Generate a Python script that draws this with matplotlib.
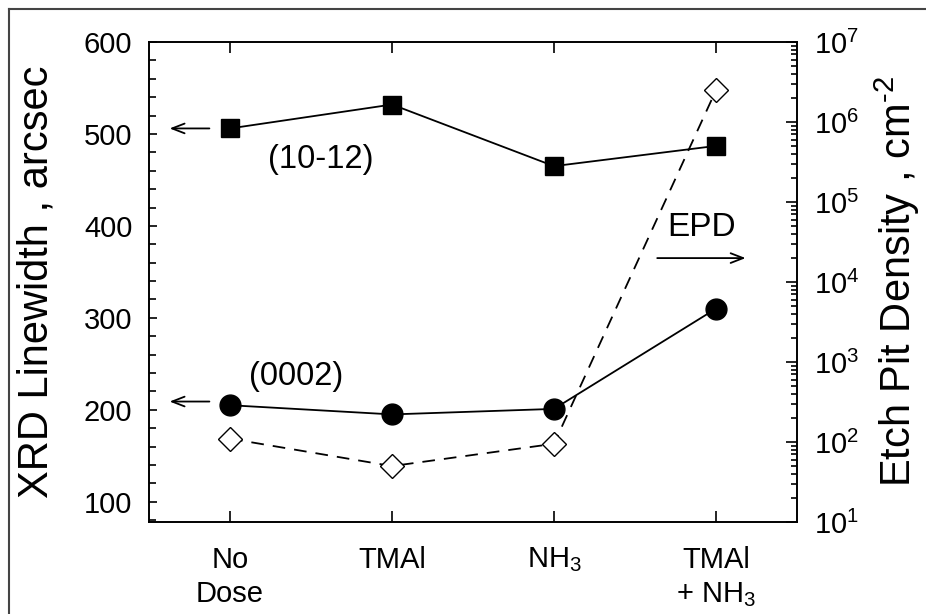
import matplotlib.pyplot as plt
import numpy as np
from matplotlib.lines import Line2D
from matplotlib.ticker import FixedLocator, LogLocator, NullFormatter

plt.rcParams['font.family'] = 'Liberation Sans'
plt.rcParams['mathtext.fontset'] = 'custom'
plt.rcParams['mathtext.rm'] = 'Liberation Sans'
plt.rcParams['mathtext.it'] = 'Liberation Sans:italic'

categories = ["No\nDose", "TMAl", "NH$_3$", "TMAl\n+ NH$_3$"]
xrd_1012 = [506, 532, 465, 487]
xrd_0002 = [205, 195, 201, 310]
epd = [110, 50, 95, 2.5e6]

x = np.arange(1, len(categories) + 1)

fig = plt.figure(figsize=(9.26, 6.14), dpi=100)
ax = fig.add_axes([149/926, 1 - 522/614, (797-149)/926, (522-42)/614])

ax.plot(x, xrd_1012, "-s", color="black", lw=1.3, ms=13, zorder=3)
ax.plot(x, xrd_0002, "-o", color="black", lw=1.3, ms=15, zorder=3)
ax.set_xlim(0.5, 4.5)
ax.set_ylim(78, 600)
ax.set_xticks(x)
ax.set_xticklabels(categories, fontsize=21, linespacing=1.3)
ax.yaxis.set_major_locator(FixedLocator([100, 200, 300, 400, 500, 600]))
ax.yaxis.set_minor_locator(FixedLocator(np.arange(80, 601, 20)))
ax.tick_params(axis='y', which='major', direction='in', length=6, width=1.2, labelsize=21, pad=12, right=False)
ax.tick_params(axis='y', which='minor', direction='in', length=5, width=1.2, left=True, right=False)
ax.tick_params(axis='x', which='major', direction='in', length=8, width=1.2, top=True, pad=17)
ax.set_ylabel("XRD Linewidth , arcsec", fontsize=30, labelpad=20)

ax2 = ax.twinx()
ax2.set_yscale('log')
ax2.plot(x, epd, "--D", color="black", mfc="white", lw=1.3, ms=12, dashes=(7, 5), zorder=2)
ax2.set_ylim(10, 1e7)
ax2.yaxis.set_major_locator(LogLocator(base=10, numticks=10))
ax2.yaxis.set_minor_locator(LogLocator(base=10, subs=np.arange(2, 10), numticks=20))
ax2.yaxis.set_minor_formatter(NullFormatter())
ax2.tick_params(axis='y', which='major', direction='in', length=8, width=1.2, labelsize=21, pad=12)
ax2.tick_params(axis='y', which='minor', direction='in', length=4, width=1.2)
ax2.set_ylabel("Etch Pit Density , cm$^{\\text{-2}}$", fontsize=30, labelpad=10)

for a in (ax, ax2):
    for s in a.spines.values():
        s.set_linewidth(1.2)

arrow = dict(arrowstyle="->,head_length=0.9,head_width=0.35", color="black", lw=1.3)
ax.annotate("", xy=(0.61, 506), xytext=(0.89, 506), arrowprops=arrow)
ax.annotate("", xy=(0.61, 209), xytext=(0.89, 209), arrowprops=arrow)
ax.annotate("", xy=(4.2, 365), xytext=(3.62, 365), arrowprops=arrow)
ax.text(1.56, 472, "(10-12)", fontsize=23.5, ha="center", va="center")
ax.text(1.41, 236, "(0002)", fontsize=23.5, ha="center", va="center")
ax.text(3.91, 398, "EPD", fontsize=24, ha="center", va="center")

fig.add_artist(Line2D([9/926, 9/926], [0, 1 - 9/614], color="#444444", lw=1.5))
fig.add_artist(Line2D([9/926, 1], [1 - 9/614, 1 - 9/614], color="#444444", lw=1.5))

fig.savefig("out.png", dpi=100)
